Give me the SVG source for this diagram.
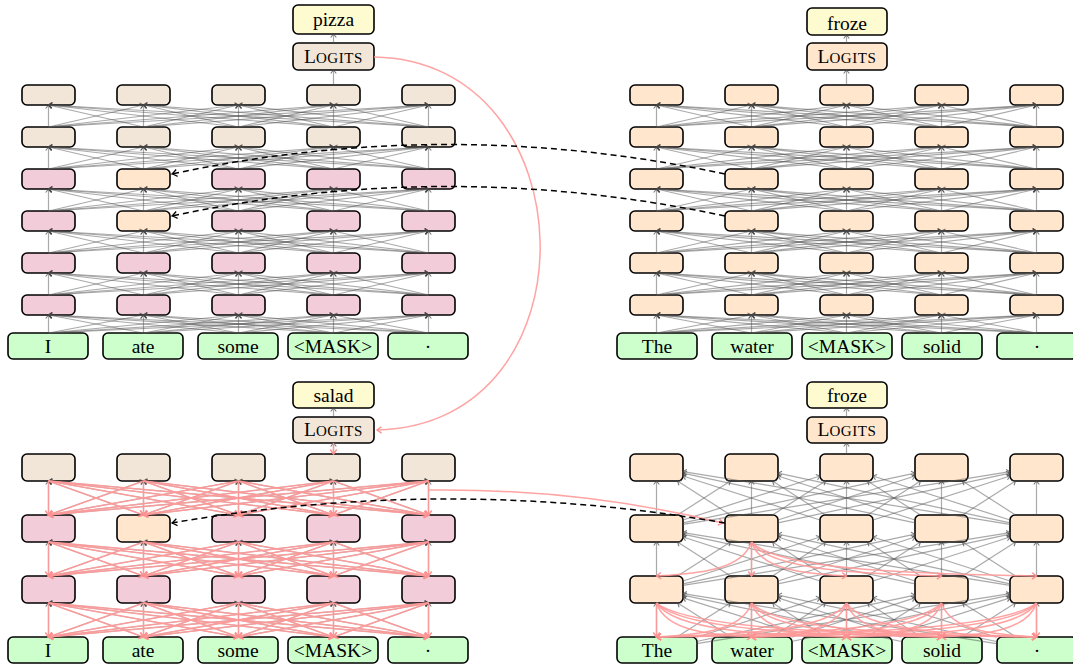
<svg xmlns="http://www.w3.org/2000/svg" width="1073" height="666" viewBox="0 0 1073 666">
<style>
.n rect{stroke:#000;stroke-width:1.6}
.tan{fill:#F2E6D9}.pk{fill:#F2CCD9}.pc{fill:#FFE6CC}.gr{fill:#CCFFCC}.yl{fill:#FFFBD0}
text{font-family:"Liberation Serif","Times New Roman",serif;font-size:19.5px;text-anchor:middle;fill:#000}
.sc{font-size:15px;letter-spacing:0.6px}
.eg{stroke:#555;stroke-opacity:.5;stroke-width:1.2;fill:none;marker-end:url(#ag)}
.ep{stroke:#FF9999;stroke-opacity:.9;stroke-width:1.5;fill:none;marker-end:url(#ap)}
.epr{stroke:#FF9999;stroke-opacity:.9;stroke-width:1.5;fill:none;marker-start:url(#ap);marker-end:none}
.ed{stroke:#000;stroke-width:1.5;stroke-dasharray:6 4;fill:none;marker-end:url(#ak)}
</style>
<defs>
<marker id="ag" markerUnits="userSpaceOnUse" orient="auto" overflow="visible" markerWidth="1" markerHeight="1"><path d="M-3.5,-2.8 L0,0 L-3.5,2.8" fill="none" stroke="#444" stroke-opacity=".7" stroke-width="1.1"/></marker>
<marker id="ap" markerUnits="userSpaceOnUse" orient="auto-start-reverse" overflow="visible" markerWidth="1" markerHeight="1"><path d="M-4.5,-3.2 L0,0 L-4.5,3.2" fill="none" stroke="#FF9090" stroke-width="1.4"/></marker>
<marker id="ak" markerUnits="userSpaceOnUse" orient="auto" overflow="visible" markerWidth="1" markerHeight="1"><path d="M-5,-3.5 Q-1.5,-0.8 0,0 Q-1.5,0.8 -5,3.5" fill="none" stroke="#000" stroke-width="1.3"/></marker>
<g id="F22">
<line x1="0" y1="22" x2="0" y2="0"/><line x1="0" y1="22" x2="95" y2="0"/><line x1="0" y1="22" x2="190" y2="0"/><line x1="0" y1="22" x2="285" y2="0"/><line x1="0" y1="22" x2="380" y2="0"/>
<line x1="95" y1="22" x2="0" y2="0"/><line x1="95" y1="22" x2="95" y2="0"/><line x1="95" y1="22" x2="190" y2="0"/><line x1="95" y1="22" x2="285" y2="0"/><line x1="95" y1="22" x2="380" y2="0"/>
<line x1="190" y1="22" x2="0" y2="0"/><line x1="190" y1="22" x2="95" y2="0"/><line x1="190" y1="22" x2="190" y2="0"/><line x1="190" y1="22" x2="285" y2="0"/><line x1="190" y1="22" x2="380" y2="0"/>
<line x1="285" y1="22" x2="0" y2="0"/><line x1="285" y1="22" x2="95" y2="0"/><line x1="285" y1="22" x2="190" y2="0"/><line x1="285" y1="22" x2="285" y2="0"/><line x1="285" y1="22" x2="380" y2="0"/>
<line x1="380" y1="22" x2="0" y2="0"/><line x1="380" y1="22" x2="95" y2="0"/><line x1="380" y1="22" x2="190" y2="0"/><line x1="380" y1="22" x2="285" y2="0"/><line x1="380" y1="22" x2="380" y2="0"/>
</g>
<g id="F18">
<line x1="0" y1="18" x2="0" y2="0"/><line x1="0" y1="18" x2="95" y2="0"/><line x1="0" y1="18" x2="190" y2="0"/><line x1="0" y1="18" x2="285" y2="0"/><line x1="0" y1="18" x2="380" y2="0"/>
<line x1="95" y1="18" x2="0" y2="0"/><line x1="95" y1="18" x2="95" y2="0"/><line x1="95" y1="18" x2="190" y2="0"/><line x1="95" y1="18" x2="285" y2="0"/><line x1="95" y1="18" x2="380" y2="0"/>
<line x1="190" y1="18" x2="0" y2="0"/><line x1="190" y1="18" x2="95" y2="0"/><line x1="190" y1="18" x2="190" y2="0"/><line x1="190" y1="18" x2="285" y2="0"/><line x1="190" y1="18" x2="380" y2="0"/>
<line x1="285" y1="18" x2="0" y2="0"/><line x1="285" y1="18" x2="95" y2="0"/><line x1="285" y1="18" x2="190" y2="0"/><line x1="285" y1="18" x2="285" y2="0"/><line x1="285" y1="18" x2="380" y2="0"/>
<line x1="380" y1="18" x2="0" y2="0"/><line x1="380" y1="18" x2="95" y2="0"/><line x1="380" y1="18" x2="190" y2="0"/><line x1="380" y1="18" x2="285" y2="0"/><line x1="380" y1="18" x2="380" y2="0"/>
</g>
<g id="F34">
<line x1="0" y1="34" x2="0" y2="0"/><line x1="0" y1="34" x2="95" y2="0"/><line x1="0" y1="34" x2="190" y2="0"/><line x1="0" y1="34" x2="285" y2="0"/><line x1="0" y1="34" x2="380" y2="0"/>
<line x1="95" y1="34" x2="0" y2="0"/><line x1="95" y1="34" x2="95" y2="0"/><line x1="95" y1="34" x2="190" y2="0"/><line x1="95" y1="34" x2="285" y2="0"/><line x1="95" y1="34" x2="380" y2="0"/>
<line x1="190" y1="34" x2="0" y2="0"/><line x1="190" y1="34" x2="95" y2="0"/><line x1="190" y1="34" x2="190" y2="0"/><line x1="190" y1="34" x2="285" y2="0"/><line x1="190" y1="34" x2="380" y2="0"/>
<line x1="285" y1="34" x2="0" y2="0"/><line x1="285" y1="34" x2="95" y2="0"/><line x1="285" y1="34" x2="190" y2="0"/><line x1="285" y1="34" x2="285" y2="0"/><line x1="285" y1="34" x2="380" y2="0"/>
<line x1="380" y1="34" x2="0" y2="0"/><line x1="380" y1="34" x2="95" y2="0"/><line x1="380" y1="34" x2="190" y2="0"/><line x1="380" y1="34" x2="285" y2="0"/><line x1="380" y1="34" x2="380" y2="0"/>
</g>
<g id="CR">
<line x1="0" y1="47.5" x2="0" y2="13.5"/><line x1="21" y1="47.5" x2="74" y2="13.5"/><line x1="26.5" y1="52.5" x2="163.5" y2="8.5"/><line x1="26.5" y1="55.3" x2="258.5" y2="5.7"/><line x1="26.5" y1="56.8" x2="353.5" y2="4.2"/>
<line x1="74" y1="47.5" x2="21" y2="13.5"/><line x1="95" y1="47.5" x2="95" y2="13.5"/><line x1="116" y1="47.5" x2="169" y2="13.5"/><line x1="121.5" y1="52.5" x2="258.5" y2="8.5"/><line x1="121.5" y1="55.3" x2="353.5" y2="5.7"/>
<line x1="163.5" y1="52.5" x2="26.5" y2="8.5"/><line x1="169" y1="47.5" x2="116" y2="13.5"/><line x1="190" y1="47.5" x2="190" y2="13.5"/><line x1="211" y1="47.5" x2="264" y2="13.5"/><line x1="216.5" y1="52.5" x2="353.5" y2="8.5"/>
<line x1="258.5" y1="55.3" x2="26.5" y2="5.7"/><line x1="258.5" y1="52.5" x2="121.5" y2="8.5"/><line x1="264" y1="47.5" x2="211" y2="13.5"/><line x1="285" y1="47.5" x2="285" y2="13.5"/><line x1="306" y1="47.5" x2="359" y2="13.5"/>
<line x1="353.5" y1="56.8" x2="26.5" y2="4.2"/><line x1="353.5" y1="55.3" x2="121.5" y2="5.7"/><line x1="353.5" y1="52.5" x2="216.5" y2="8.5"/><line x1="359" y1="47.5" x2="306" y2="13.5"/><line x1="380" y1="47.5" x2="380" y2="13.5"/>
</g>
<g id="CI">
<line x1="0" y1="47.5" x2="0" y2="13.5"/><line x1="20.4" y1="47.5" x2="73.8" y2="13.5"/><line x1="40" y1="47.8" x2="163.5" y2="8.4"/><line x1="40" y1="52" x2="258.5" y2="5.6"/><line x1="40" y1="54.1" x2="353.5" y2="4.2"/>
<line x1="74.6" y1="47.5" x2="21.2" y2="13.5"/><line x1="95" y1="47.5" x2="95" y2="13.5"/><line x1="115.4" y1="47.5" x2="168.8" y2="13.5"/><line x1="135" y1="47.8" x2="258.5" y2="8.4"/><line x1="135" y1="52" x2="353.5" y2="5.6"/>
<line x1="150" y1="47.8" x2="26.5" y2="8.4"/><line x1="169.6" y1="47.5" x2="116.2" y2="13.5"/><line x1="190" y1="47.5" x2="190" y2="13.5"/><line x1="210.4" y1="47.5" x2="263.8" y2="13.5"/><line x1="230" y1="47.8" x2="353.5" y2="8.4"/>
<line x1="245" y1="52" x2="26.5" y2="5.6"/><line x1="245" y1="47.8" x2="121.5" y2="8.4"/><line x1="264.6" y1="47.5" x2="211.2" y2="13.5"/><line x1="285" y1="47.5" x2="285" y2="13.5"/><line x1="305.4" y1="47.5" x2="358.8" y2="13.5"/>
<line x1="340" y1="54.1" x2="26.5" y2="4.2"/><line x1="340" y1="52" x2="121.5" y2="5.6"/><line x1="340" y1="47.8" x2="216.5" y2="8.4"/><line x1="359.6" y1="47.5" x2="306.2" y2="13.5"/><line x1="380" y1="47.5" x2="380" y2="13.5"/>
</g>
</defs>
<rect width="1073" height="666" fill="#fff"/>

<!-- Top-left panel nodes -->
<g id="tl-out" class="n"><rect class="yl" x="293" y="5" width="81" height="29" rx="5"/><text x="333.5" y="26">pizza</text></g>
<g id="tl-logits" class="n"><rect class="tan" x="293" y="43" width="81" height="27" rx="5"/><text x="333.5" y="63">L<tspan class="sc">OGITS</tspan></text></g>
<g id="tl-h1-1" class="n"><rect class="tan" x="22" y="85" width="53" height="20" rx="5"/></g>
<g id="tl-h1-2" class="n"><rect class="tan" x="117" y="85" width="53" height="20" rx="5"/></g>
<g id="tl-h1-3" class="n"><rect class="tan" x="212" y="85" width="53" height="20" rx="5"/></g>
<g id="tl-h1-4" class="n"><rect class="tan" x="307" y="85" width="53" height="20" rx="5"/></g>
<g id="tl-h1-5" class="n"><rect class="tan" x="402" y="85" width="53" height="20" rx="5"/></g>
<g id="tl-h2-1" class="n"><rect class="tan" x="22" y="127" width="53" height="20" rx="5"/></g>
<g id="tl-h2-2" class="n"><rect class="tan" x="117" y="127" width="53" height="20" rx="5"/></g>
<g id="tl-h2-3" class="n"><rect class="tan" x="212" y="127" width="53" height="20" rx="5"/></g>
<g id="tl-h2-4" class="n"><rect class="tan" x="307" y="127" width="53" height="20" rx="5"/></g>
<g id="tl-h2-5" class="n"><rect class="tan" x="402" y="127" width="53" height="20" rx="5"/></g>
<g id="tl-h3-1" class="n"><rect class="pk" x="22" y="169" width="53" height="20" rx="5"/></g>
<g id="tl-h3-2" class="n"><rect class="pc" x="117" y="169" width="53" height="20" rx="5"/></g>
<g id="tl-h3-3" class="n"><rect class="pk" x="212" y="169" width="53" height="20" rx="5"/></g>
<g id="tl-h3-4" class="n"><rect class="pk" x="307" y="169" width="53" height="20" rx="5"/></g>
<g id="tl-h3-5" class="n"><rect class="pk" x="402" y="169" width="53" height="20" rx="5"/></g>
<g id="tl-h4-1" class="n"><rect class="pk" x="22" y="211" width="53" height="20" rx="5"/></g>
<g id="tl-h4-2" class="n"><rect class="pc" x="117" y="211" width="53" height="20" rx="5"/></g>
<g id="tl-h4-3" class="n"><rect class="pk" x="212" y="211" width="53" height="20" rx="5"/></g>
<g id="tl-h4-4" class="n"><rect class="pk" x="307" y="211" width="53" height="20" rx="5"/></g>
<g id="tl-h4-5" class="n"><rect class="pk" x="402" y="211" width="53" height="20" rx="5"/></g>
<g id="tl-h5-1" class="n"><rect class="pk" x="22" y="253" width="53" height="20" rx="5"/></g>
<g id="tl-h5-2" class="n"><rect class="pk" x="117" y="253" width="53" height="20" rx="5"/></g>
<g id="tl-h5-3" class="n"><rect class="pk" x="212" y="253" width="53" height="20" rx="5"/></g>
<g id="tl-h5-4" class="n"><rect class="pk" x="307" y="253" width="53" height="20" rx="5"/></g>
<g id="tl-h5-5" class="n"><rect class="pk" x="402" y="253" width="53" height="20" rx="5"/></g>
<g id="tl-h6-1" class="n"><rect class="pk" x="22" y="295" width="53" height="20" rx="5"/></g>
<g id="tl-h6-2" class="n"><rect class="pk" x="117" y="295" width="53" height="20" rx="5"/></g>
<g id="tl-h6-3" class="n"><rect class="pk" x="212" y="295" width="53" height="20" rx="5"/></g>
<g id="tl-h6-4" class="n"><rect class="pk" x="307" y="295" width="53" height="20" rx="5"/></g>
<g id="tl-h6-5" class="n"><rect class="pk" x="402" y="295" width="53" height="20" rx="5"/></g>
<g id="tl-in-1" class="n"><rect class="gr" x="8" y="333" width="80" height="26" rx="5"/><text x="48" y="353">I</text></g>
<g id="tl-in-2" class="n"><rect class="gr" x="103" y="333" width="80" height="26" rx="5"/><text x="143" y="353">ate</text></g>
<g id="tl-in-3" class="n"><rect class="gr" x="198" y="333" width="80" height="26" rx="5"/><text x="238" y="353">some</text></g>
<g id="tl-in-4" class="n"><rect class="gr" x="288" y="333" width="90" height="26" rx="5"/><text x="333" y="353">&lt;MASK&gt;</text></g>
<g id="tl-in-5" class="n"><rect class="gr" x="388" y="333" width="80" height="26" rx="5"/><text x="428" y="353">·</text></g>

<!-- Top-right panel nodes -->
<g id="tr-out" class="n"><rect class="yl" x="807" y="8" width="80" height="27" rx="5"/><text x="847" y="30">froze</text></g>
<g id="tr-logits" class="n"><rect class="pc" x="807" y="43" width="80" height="27" rx="5"/><text x="847" y="63">L<tspan class="sc">OGITS</tspan></text></g>
<g id="tr-h1-1" class="n"><rect class="pc" x="630" y="85" width="53" height="20" rx="5"/></g>
<g id="tr-h1-2" class="n"><rect class="pc" x="725" y="85" width="53" height="20" rx="5"/></g>
<g id="tr-h1-3" class="n"><rect class="pc" x="820" y="85" width="53" height="20" rx="5"/></g>
<g id="tr-h1-4" class="n"><rect class="pc" x="915" y="85" width="53" height="20" rx="5"/></g>
<g id="tr-h1-5" class="n"><rect class="pc" x="1010" y="85" width="53" height="20" rx="5"/></g>
<g id="tr-h2-1" class="n"><rect class="pc" x="630" y="127" width="53" height="20" rx="5"/></g>
<g id="tr-h2-2" class="n"><rect class="pc" x="725" y="127" width="53" height="20" rx="5"/></g>
<g id="tr-h2-3" class="n"><rect class="pc" x="820" y="127" width="53" height="20" rx="5"/></g>
<g id="tr-h2-4" class="n"><rect class="pc" x="915" y="127" width="53" height="20" rx="5"/></g>
<g id="tr-h2-5" class="n"><rect class="pc" x="1010" y="127" width="53" height="20" rx="5"/></g>
<g id="tr-h3-1" class="n"><rect class="pc" x="630" y="169" width="53" height="20" rx="5"/></g>
<g id="tr-h3-2" class="n"><rect class="pc" x="725" y="169" width="53" height="20" rx="5"/></g>
<g id="tr-h3-3" class="n"><rect class="pc" x="820" y="169" width="53" height="20" rx="5"/></g>
<g id="tr-h3-4" class="n"><rect class="pc" x="915" y="169" width="53" height="20" rx="5"/></g>
<g id="tr-h3-5" class="n"><rect class="pc" x="1010" y="169" width="53" height="20" rx="5"/></g>
<g id="tr-h4-1" class="n"><rect class="pc" x="630" y="211" width="53" height="20" rx="5"/></g>
<g id="tr-h4-2" class="n"><rect class="pc" x="725" y="211" width="53" height="20" rx="5"/></g>
<g id="tr-h4-3" class="n"><rect class="pc" x="820" y="211" width="53" height="20" rx="5"/></g>
<g id="tr-h4-4" class="n"><rect class="pc" x="915" y="211" width="53" height="20" rx="5"/></g>
<g id="tr-h4-5" class="n"><rect class="pc" x="1010" y="211" width="53" height="20" rx="5"/></g>
<g id="tr-h5-1" class="n"><rect class="pc" x="630" y="253" width="53" height="20" rx="5"/></g>
<g id="tr-h5-2" class="n"><rect class="pc" x="725" y="253" width="53" height="20" rx="5"/></g>
<g id="tr-h5-3" class="n"><rect class="pc" x="820" y="253" width="53" height="20" rx="5"/></g>
<g id="tr-h5-4" class="n"><rect class="pc" x="915" y="253" width="53" height="20" rx="5"/></g>
<g id="tr-h5-5" class="n"><rect class="pc" x="1010" y="253" width="53" height="20" rx="5"/></g>
<g id="tr-h6-1" class="n"><rect class="pc" x="630" y="295" width="53" height="20" rx="5"/></g>
<g id="tr-h6-2" class="n"><rect class="pc" x="725" y="295" width="53" height="20" rx="5"/></g>
<g id="tr-h6-3" class="n"><rect class="pc" x="820" y="295" width="53" height="20" rx="5"/></g>
<g id="tr-h6-4" class="n"><rect class="pc" x="915" y="295" width="53" height="20" rx="5"/></g>
<g id="tr-h6-5" class="n"><rect class="pc" x="1010" y="295" width="53" height="20" rx="5"/></g>
<g id="tr-in-1" class="n"><rect class="gr" x="617" y="333" width="80" height="26" rx="5"/><text x="657" y="353">The</text></g>
<g id="tr-in-2" class="n"><rect class="gr" x="712" y="333" width="80" height="26" rx="5"/><text x="752" y="353">water</text></g>
<g id="tr-in-3" class="n"><rect class="gr" x="802" y="333" width="90" height="26" rx="5"/><text x="847" y="353">&lt;MASK&gt;</text></g>
<g id="tr-in-4" class="n"><rect class="gr" x="902" y="333" width="80" height="26" rx="5"/><text x="942" y="353">solid</text></g>
<g id="tr-in-5" class="n"><rect class="gr" x="997" y="333" width="80" height="26" rx="5"/><text x="1037" y="353">·</text></g>

<!-- Bottom-left panel nodes -->
<g id="bl-out" class="n"><rect class="yl" x="293" y="382" width="81" height="26" rx="5"/><text x="333.5" y="401.5">salad</text></g>
<g id="bl-logits" class="n"><rect class="tan" x="293" y="417" width="81" height="26" rx="5"/><text x="333.5" y="436">L<tspan class="sc">OGITS</tspan></text></g>
<g id="bl-h1-1" class="n"><rect class="tan" x="22" y="454" width="53" height="27" rx="5"/></g>
<g id="bl-h1-2" class="n"><rect class="tan" x="117" y="454" width="53" height="27" rx="5"/></g>
<g id="bl-h1-3" class="n"><rect class="tan" x="212" y="454" width="53" height="27" rx="5"/></g>
<g id="bl-h1-4" class="n"><rect class="tan" x="307" y="454" width="53" height="27" rx="5"/></g>
<g id="bl-h1-5" class="n"><rect class="tan" x="402" y="454" width="53" height="27" rx="5"/></g>
<g id="bl-h2-1" class="n"><rect class="pk" x="22" y="515" width="53" height="27" rx="5"/></g>
<g id="bl-h2-2" class="n"><rect class="pc" x="117" y="515" width="53" height="27" rx="5"/></g>
<g id="bl-h2-3" class="n"><rect class="pk" x="212" y="515" width="53" height="27" rx="5"/></g>
<g id="bl-h2-4" class="n"><rect class="pk" x="307" y="515" width="53" height="27" rx="5"/></g>
<g id="bl-h2-5" class="n"><rect class="pk" x="402" y="515" width="53" height="27" rx="5"/></g>
<g id="bl-h3-1" class="n"><rect class="pk" x="22" y="576" width="53" height="27" rx="5"/></g>
<g id="bl-h3-2" class="n"><rect class="pk" x="117" y="576" width="53" height="27" rx="5"/></g>
<g id="bl-h3-3" class="n"><rect class="pk" x="212" y="576" width="53" height="27" rx="5"/></g>
<g id="bl-h3-4" class="n"><rect class="pk" x="307" y="576" width="53" height="27" rx="5"/></g>
<g id="bl-h3-5" class="n"><rect class="pk" x="402" y="576" width="53" height="27" rx="5"/></g>
<g id="bl-in-1" class="n"><rect class="gr" x="8" y="637" width="80" height="26" rx="5"/><text x="48" y="657">I</text></g>
<g id="bl-in-2" class="n"><rect class="gr" x="103" y="637" width="80" height="26" rx="5"/><text x="143" y="657">ate</text></g>
<g id="bl-in-3" class="n"><rect class="gr" x="198" y="637" width="80" height="26" rx="5"/><text x="238" y="657">some</text></g>
<g id="bl-in-4" class="n"><rect class="gr" x="288" y="637" width="90" height="26" rx="5"/><text x="333" y="657">&lt;MASK&gt;</text></g>
<g id="bl-in-5" class="n"><rect class="gr" x="388" y="637" width="80" height="26" rx="5"/><text x="428" y="657">·</text></g>

<!-- Bottom-right panel nodes -->
<g id="br-out" class="n"><rect class="yl" x="807" y="382" width="80" height="26" rx="5"/><text x="847" y="401.5">froze</text></g>
<g id="br-logits" class="n"><rect class="pc" x="807" y="417" width="80" height="26" rx="5"/><text x="847" y="436">L<tspan class="sc">OGITS</tspan></text></g>
<g id="br-h1-1" class="n"><rect class="pc" x="630" y="454" width="53" height="27" rx="5"/></g>
<g id="br-h1-2" class="n"><rect class="pc" x="725" y="454" width="53" height="27" rx="5"/></g>
<g id="br-h1-3" class="n"><rect class="pc" x="820" y="454" width="53" height="27" rx="5"/></g>
<g id="br-h1-4" class="n"><rect class="pc" x="915" y="454" width="53" height="27" rx="5"/></g>
<g id="br-h1-5" class="n"><rect class="pc" x="1010" y="454" width="53" height="27" rx="5"/></g>
<g id="br-h2-1" class="n"><rect class="pc" x="630" y="515" width="53" height="27" rx="5"/></g>
<g id="br-h2-2" class="n"><rect class="pc" x="725" y="515" width="53" height="27" rx="5"/></g>
<g id="br-h2-3" class="n"><rect class="pc" x="820" y="515" width="53" height="27" rx="5"/></g>
<g id="br-h2-4" class="n"><rect class="pc" x="915" y="515" width="53" height="27" rx="5"/></g>
<g id="br-h2-5" class="n"><rect class="pc" x="1010" y="515" width="53" height="27" rx="5"/></g>
<g id="br-h3-1" class="n"><rect class="pc" x="630" y="576" width="53" height="27" rx="5"/></g>
<g id="br-h3-2" class="n"><rect class="pc" x="725" y="576" width="53" height="27" rx="5"/></g>
<g id="br-h3-3" class="n"><rect class="pc" x="820" y="576" width="53" height="27" rx="5"/></g>
<g id="br-h3-4" class="n"><rect class="pc" x="915" y="576" width="53" height="27" rx="5"/></g>
<g id="br-h3-5" class="n"><rect class="pc" x="1010" y="576" width="53" height="27" rx="5"/></g>
<g id="br-in-1" class="n"><rect class="gr" x="617" y="637" width="80" height="26" rx="5"/><text x="657" y="657">The</text></g>
<g id="br-in-2" class="n"><rect class="gr" x="712" y="637" width="80" height="26" rx="5"/><text x="752" y="657">water</text></g>
<g id="br-in-3" class="n"><rect class="gr" x="802" y="637" width="90" height="26" rx="5"/><text x="847" y="657">&lt;MASK&gt;</text></g>
<g id="br-in-4" class="n"><rect class="gr" x="902" y="637" width="80" height="26" rx="5"/><text x="942" y="657">solid</text></g>
<g id="br-in-5" class="n"><rect class="gr" x="997" y="637" width="80" height="26" rx="5"/><text x="1037" y="657">·</text></g>

<!-- Connectors -->
<g id="connectors">
<use href="#F22" x="48.5" y="105" class="eg"/>
<use href="#F22" x="48.5" y="147" class="eg"/>
<use href="#F22" x="48.5" y="189" class="eg"/>
<use href="#F22" x="48.5" y="231" class="eg"/>
<use href="#F22" x="48.5" y="273" class="eg"/>
<use href="#F18" x="48.5" y="315" class="eg"/>
<line class="eg" x1="333.5" y1="85" x2="333.5" y2="70"/>
<line class="eg" x1="333.5" y1="43" x2="333.5" y2="34"/>
<use href="#F22" x="656.5" y="105" class="eg"/>
<use href="#F22" x="656.5" y="147" class="eg"/>
<use href="#F22" x="656.5" y="189" class="eg"/>
<use href="#F22" x="656.5" y="231" class="eg"/>
<use href="#F22" x="656.5" y="273" class="eg"/>
<use href="#F18" x="656.5" y="315" class="eg"/>
<line class="eg" x1="846.5" y1="85" x2="846.5" y2="70"/>
<line class="eg" x1="846.5" y1="43" x2="846.5" y2="35"/>
<use href="#F34" x="48.5" y="481" class="eg"/>
<use href="#F34" x="48.5" y="542" class="eg"/>
<use href="#F34" x="48.5" y="603" class="eg"/>
<use href="#F34" x="48.5" y="481" class="epr"/>
<use href="#F34" x="48.5" y="542" class="epr"/>
<use href="#F34" x="48.5" y="603" class="epr"/>
<line class="eg" x1="333.5" y1="454" x2="333.5" y2="443"/>
<line class="ep" x1="333.5" y1="443" x2="333.5" y2="454"/>
<line class="eg" x1="333.5" y1="417" x2="333.5" y2="408"/>
<use href="#CR" x="656.5" y="467.5" class="eg"/>
<use href="#CR" x="656.5" y="528.5" class="eg"/>
<use href="#CI" x="656.5" y="589.5" class="eg"/>
<line class="eg" x1="846.5" y1="454" x2="846.5" y2="443"/>
<line class="eg" x1="846.5" y1="417" x2="846.5" y2="408"/>
<g class="ep" transform="translate(656.5,603)">
<path d="M0 0V34"/><path d="M0 0C9.5 30 61.75 32 95 34"/><path d="M0 0C19 30 123.5 32 190 34"/><path d="M0 0C28.5 30 185.25 32 285 34"/><path d="M0 0C38 30 247 32 380 34"/>
<path d="M95 0C85.5 30 33.25 32 0 34"/><path d="M95 0V34"/><path d="M95 0C104.5 30 156.75 32 190 34"/><path d="M95 0C114 30 218.5 32 285 34"/><path d="M95 0C123.5 30 280.25 32 380 34"/>
<path d="M190 0C171 30 66.5 32 0 34"/><path d="M190 0C180.5 30 128.25 32 95 34"/><path d="M190 0V34"/><path d="M190 0C199.5 30 251.75 32 285 34"/><path d="M190 0C209 30 313.5 32 380 34"/>
<path d="M285 0C256.5 30 99.75 32 0 34"/><path d="M285 0C266 30 161.5 32 95 34"/><path d="M285 0C275.5 30 223.25 32 190 34"/><path d="M285 0V34"/><path d="M285 0C294.5 30 346.75 32 380 34"/>
<path d="M380 0C342 30 133 32 0 34"/><path d="M380 0C351.5 30 194.75 32 95 34"/><path d="M380 0C361 30 256.5 32 190 34"/><path d="M380 0C370.5 30 318.25 32 285 34"/><path d="M380 0V34"/>
</g>
<g class="ep">
<path d="M751.5 542C742 572 689.75 574 656.5 576"/>
<path d="M751.5 542V576"/>
<path d="M751.5 542C761 572 813.25 574 846.5 576"/>
<path d="M751.5 542C770.5 572 875 574 941.5 576"/>
<path d="M751.5 542C780 572 936.75 574 1036.5 576"/>
</g>
<path class="ep" d="M374 57C590 60 600 425 377 430"/>
<path class="ep" d="M428 490Q580 488 723 523"/>
<path class="ed" d="M725 174Q448 115 172 174"/>
<path class="ed" d="M725 216Q448 157 172 216"/>
<path class="ed" d="M725 523Q448 475 172 523"/>
</g>
</svg>
